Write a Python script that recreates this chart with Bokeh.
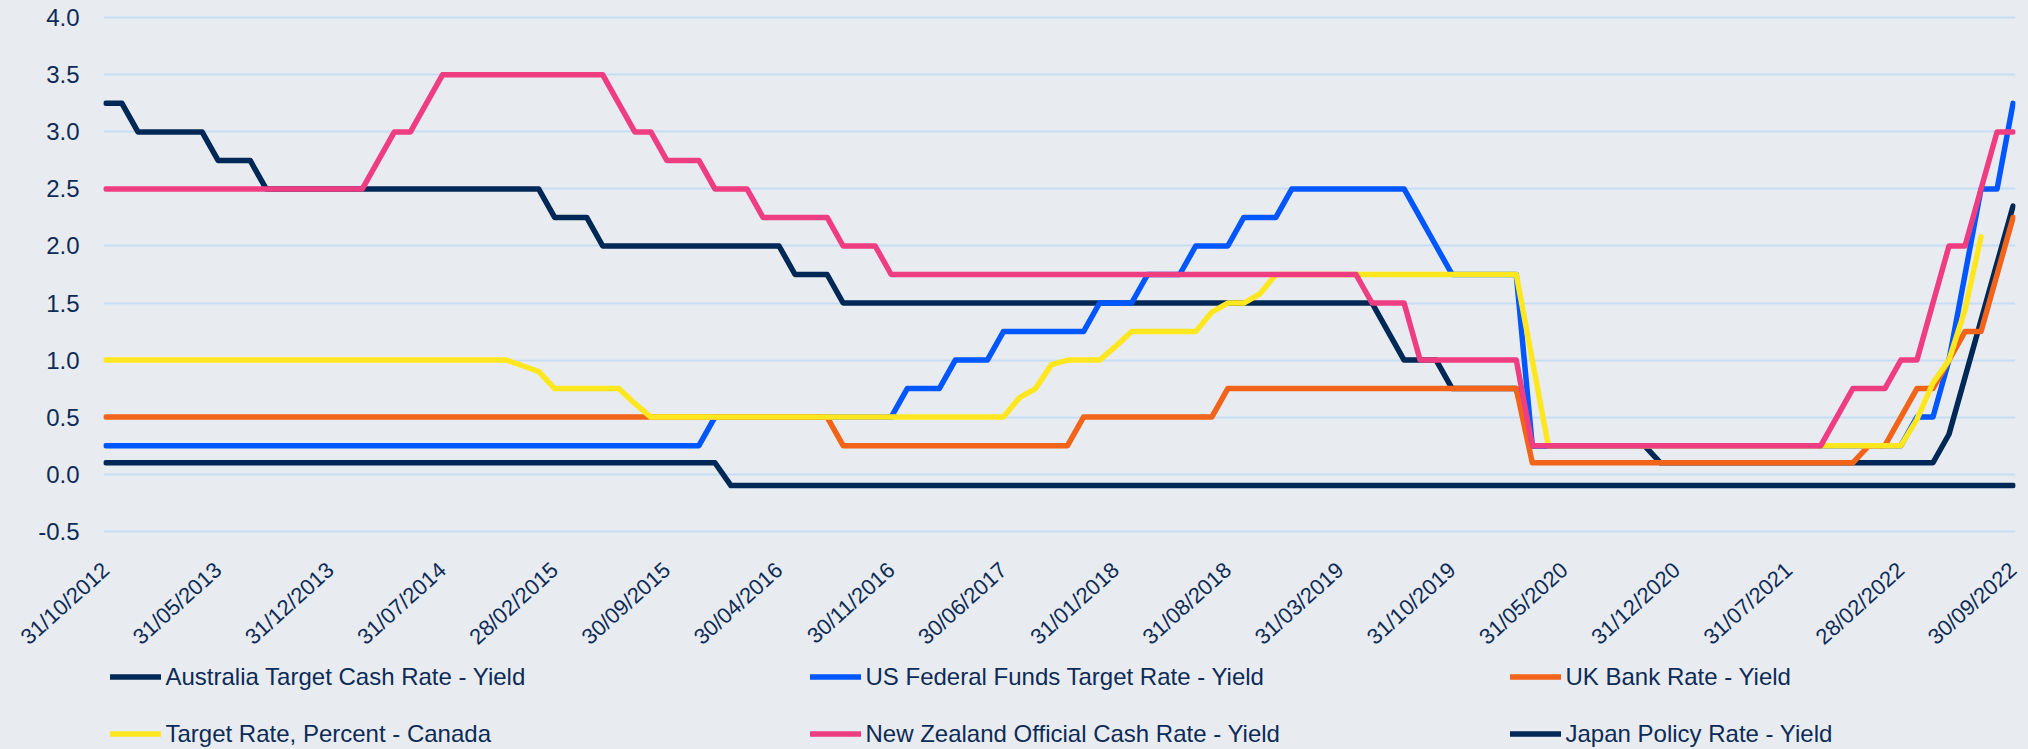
import math
import pandas as pd
from bokeh.plotting import figure
from bokeh.layouts import column
from bokeh.models import (Range1d, FixedTicker, PrintfTickFormatter, Legend, LegendItem)
from bokeh.embed import file_html
from bokeh.resources import INLINE

# ---------------- data ----------------
# monthly observations, 31/10/2012 ... 30/09/2022 (category axis)
months = [d.strftime("%d/%m/%Y") for d in
          (pd.date_range("2012-10-01", periods=120, freq="MS") + pd.offsets.MonthEnd(0))]

x_tick_labels = ["31/10/2012", "31/05/2013", "31/12/2013", "31/07/2014", "28/02/2015",
                 "30/09/2015", "30/04/2016", "30/11/2016", "30/06/2017", "31/01/2018",
                 "31/08/2018", "31/03/2019", "31/10/2019", "31/05/2020", "31/12/2020",
                 "31/07/2021", "28/02/2022", "30/09/2022"]

y_ticks = [-0.5, 0.0, 0.5, 1.0, 1.5, 2.0, 2.5, 3.0, 3.5, 4.0]

nan = float("nan")

# one row per year: Oct .. Sep
australia = [
    3.25, 3.25, 3.00, 3.00, 3.00, 3.00, 3.00, 2.75, 2.75, 2.75, 2.50, 2.50,
    2.50, 2.50, 2.50, 2.50, 2.50, 2.50, 2.50, 2.50, 2.50, 2.50, 2.50, 2.50,
    2.50, 2.50, 2.50, 2.50, 2.25, 2.25, 2.25, 2.00, 2.00, 2.00, 2.00, 2.00,
    2.00, 2.00, 2.00, 2.00, 2.00, 2.00, 2.00, 1.75, 1.75, 1.75, 1.50, 1.50,
    1.50, 1.50, 1.50, 1.50, 1.50, 1.50, 1.50, 1.50, 1.50, 1.50, 1.50, 1.50,
    1.50, 1.50, 1.50, 1.50, 1.50, 1.50, 1.50, 1.50, 1.50, 1.50, 1.50, 1.50,
    1.50, 1.50, 1.50, 1.50, 1.50, 1.50, 1.50, 1.50, 1.25, 1.00, 1.00, 1.00,
    0.75, 0.75, 0.75, 0.75, 0.75, 0.25, 0.25, 0.25, 0.25, 0.25, 0.25, 0.25,
    0.25, 0.10, 0.10, 0.10, 0.10, 0.10, 0.10, 0.10, 0.10, 0.10, 0.10, 0.10,
    0.10, 0.10, 0.10, 0.10, 0.10, 0.10, 0.10, 0.35, 0.85, 1.35, 1.85, 2.35,
]

us_fed = [
    0.25, 0.25, 0.25, 0.25, 0.25, 0.25, 0.25, 0.25, 0.25, 0.25, 0.25, 0.25,
    0.25, 0.25, 0.25, 0.25, 0.25, 0.25, 0.25, 0.25, 0.25, 0.25, 0.25, 0.25,
    0.25, 0.25, 0.25, 0.25, 0.25, 0.25, 0.25, 0.25, 0.25, 0.25, 0.25, 0.25,
    0.25, 0.25, 0.50, 0.50, 0.50, 0.50, 0.50, 0.50, 0.50, 0.50, 0.50, 0.50,
    0.50, 0.50, 0.75, 0.75, 0.75, 1.00, 1.00, 1.00, 1.25, 1.25, 1.25, 1.25,
    1.25, 1.25, 1.50, 1.50, 1.50, 1.75, 1.75, 1.75, 2.00, 2.00, 2.00, 2.25,
    2.25, 2.25, 2.50, 2.50, 2.50, 2.50, 2.50, 2.50, 2.50, 2.50, 2.25, 2.00,
    1.75, 1.75, 1.75, 1.75, 1.75, 0.25, 0.25, 0.25, 0.25, 0.25, 0.25, 0.25,
    0.25, 0.25, 0.25, 0.25, 0.25, 0.25, 0.25, 0.25, 0.25, 0.25, 0.25, 0.25,
    0.25, 0.25, 0.25, 0.25, 0.25, 0.50, 0.50, 1.00, 1.75, 2.50, 2.50, 3.25,
]

uk_bank = [
    0.50, 0.50, 0.50, 0.50, 0.50, 0.50, 0.50, 0.50, 0.50, 0.50, 0.50, 0.50,
    0.50, 0.50, 0.50, 0.50, 0.50, 0.50, 0.50, 0.50, 0.50, 0.50, 0.50, 0.50,
    0.50, 0.50, 0.50, 0.50, 0.50, 0.50, 0.50, 0.50, 0.50, 0.50, 0.50, 0.50,
    0.50, 0.50, 0.50, 0.50, 0.50, 0.50, 0.50, 0.50, 0.50, 0.50, 0.25, 0.25,
    0.25, 0.25, 0.25, 0.25, 0.25, 0.25, 0.25, 0.25, 0.25, 0.25, 0.25, 0.25,
    0.25, 0.50, 0.50, 0.50, 0.50, 0.50, 0.50, 0.50, 0.50, 0.50, 0.75, 0.75,
    0.75, 0.75, 0.75, 0.75, 0.75, 0.75, 0.75, 0.75, 0.75, 0.75, 0.75, 0.75,
    0.75, 0.75, 0.75, 0.75, 0.75, 0.10, 0.10, 0.10, 0.10, 0.10, 0.10, 0.10,
    0.10, 0.10, 0.10, 0.10, 0.10, 0.10, 0.10, 0.10, 0.10, 0.10, 0.10, 0.10,
    0.10, 0.10, 0.25, 0.25, 0.50, 0.75, 0.75, 1.00, 1.25, 1.25, 1.75, 2.25,
]

canada = [
    1.00, 1.00, 1.00, 1.00, 1.00, 1.00, 1.00, 1.00, 1.00, 1.00, 1.00, 1.00,
    1.00, 1.00, 1.00, 1.00, 1.00, 1.00, 1.00, 1.00, 1.00, 1.00, 1.00, 1.00,
    1.00, 1.00, 0.95, 0.90, 0.75, 0.75, 0.75, 0.75, 0.75, 0.62, 0.50, 0.50,
    0.50, 0.50, 0.50, 0.50, 0.50, 0.50, 0.50, 0.50, 0.50, 0.50, 0.50, 0.50,
    0.50, 0.50, 0.50, 0.50, 0.50, 0.50, 0.50, 0.50, 0.50, 0.67, 0.75, 0.96,
    1.00, 1.00, 1.00, 1.12, 1.25, 1.25, 1.25, 1.25, 1.25, 1.42, 1.50, 1.50,
    1.58, 1.75, 1.75, 1.75, 1.75, 1.75, 1.75, 1.75, 1.75, 1.75, 1.75, 1.75,
    1.75, 1.75, 1.75, 1.75, 1.75, 1.00, 0.25, 0.25, 0.25, 0.25, 0.25, 0.25,
    0.25, 0.25, 0.25, 0.25, 0.25, 0.25, 0.25, 0.25, 0.25, 0.25, 0.25, 0.25,
    0.25, 0.25, 0.25, 0.25, 0.25, 0.48, 0.80, 1.00, 1.44, 2.08, nan, nan,
]

new_zealand = [
    2.50, 2.50, 2.50, 2.50, 2.50, 2.50, 2.50, 2.50, 2.50, 2.50, 2.50, 2.50,
    2.50, 2.50, 2.50, 2.50, 2.50, 2.75, 3.00, 3.00, 3.25, 3.50, 3.50, 3.50,
    3.50, 3.50, 3.50, 3.50, 3.50, 3.50, 3.50, 3.50, 3.25, 3.00, 3.00, 2.75,
    2.75, 2.75, 2.50, 2.50, 2.50, 2.25, 2.25, 2.25, 2.25, 2.25, 2.00, 2.00,
    2.00, 1.75, 1.75, 1.75, 1.75, 1.75, 1.75, 1.75, 1.75, 1.75, 1.75, 1.75,
    1.75, 1.75, 1.75, 1.75, 1.75, 1.75, 1.75, 1.75, 1.75, 1.75, 1.75, 1.75,
    1.75, 1.75, 1.75, 1.75, 1.75, 1.75, 1.75, 1.50, 1.50, 1.50, 1.00, 1.00,
    1.00, 1.00, 1.00, 1.00, 1.00, 0.25, 0.25, 0.25, 0.25, 0.25, 0.25, 0.25,
    0.25, 0.25, 0.25, 0.25, 0.25, 0.25, 0.25, 0.25, 0.25, 0.25, 0.25, 0.25,
    0.50, 0.75, 0.75, 0.75, 1.00, 1.00, 1.50, 2.00, 2.00, 2.50, 3.00, 3.00,
]

japan = [
    0.10, 0.10, 0.10, 0.10, 0.10, 0.10, 0.10, 0.10, 0.10, 0.10, 0.10, 0.10,
    0.10, 0.10, 0.10, 0.10, 0.10, 0.10, 0.10, 0.10, 0.10, 0.10, 0.10, 0.10,
    0.10, 0.10, 0.10, 0.10, 0.10, 0.10, 0.10, 0.10, 0.10, 0.10, 0.10, 0.10,
    0.10, 0.10, 0.10, -0.10, -0.10, -0.10, -0.10, -0.10, -0.10, -0.10, -0.10, -0.10,
    -0.10, -0.10, -0.10, -0.10, -0.10, -0.10, -0.10, -0.10, -0.10, -0.10, -0.10, -0.10,
    -0.10, -0.10, -0.10, -0.10, -0.10, -0.10, -0.10, -0.10, -0.10, -0.10, -0.10, -0.10,
    -0.10, -0.10, -0.10, -0.10, -0.10, -0.10, -0.10, -0.10, -0.10, -0.10, -0.10, -0.10,
    -0.10, -0.10, -0.10, -0.10, -0.10, -0.10, -0.10, -0.10, -0.10, -0.10, -0.10, -0.10,
    -0.10, -0.10, -0.10, -0.10, -0.10, -0.10, -0.10, -0.10, -0.10, -0.10, -0.10, -0.10,
    -0.10, -0.10, -0.10, -0.10, -0.10, -0.10, -0.10, -0.10, -0.10, -0.10, -0.10, -0.10,
]

series_names = ["Australia Target Cash Rate - Yield",
                "US Federal Funds Target Rate - Yield",
                "UK Bank Rate - Yield",
                "Target Rate, Percent - Canada",
                "New Zealand Official Cash Rate - Yield",
                "Japan Policy Rate - Yield"]
series_values = [australia, us_fed, uk_bank, canada, new_zealand, japan]
series_colors = ["#002856", "#0057FF", "#F26419", "#FFE71F", "#EE3D80", "#002856"]

# ---------------- styling ----------------
BG = "#E8ECF0"
GRID = "#C5DCF5"
TXT = "#0D2B57"
FONT = "Liberation Sans"
W = 2028
H_MAIN = 664
H_LEG = 85
B_LEFT = 103
B_RIGHT = 13
LW = 5.5

x_idx = list(range(len(months)))

p = figure(width=W, height=H_MAIN, output_backend="svg", toolbar_location=None,
           x_range=Range1d(-0.15, len(months) - 1 + 0.15),
           y_range=Range1d(-0.52, 4.02),
           min_border_left=B_LEFT, min_border_right=B_RIGHT,
           min_border_top=15, min_border_bottom=131)

p.background_fill_color = BG
p.border_fill_color = BG
p.outline_line_color = None

for name, vals, col in zip(series_names, series_values, series_colors):
    p.line(x_idx, vals, line_color=col, line_width=LW,
           line_join="round", line_cap="round")

# x axis (category positions)
tick_idx = [months.index(lbl) for lbl in x_tick_labels]
p.xaxis.ticker = FixedTicker(ticks=tick_idx)
p.xaxis.major_label_overrides = {i: lbl for i, lbl in zip(tick_idx, x_tick_labels)}
p.xaxis.major_label_orientation = math.radians(42)
p.xaxis.major_label_text_font = FONT
p.xaxis.major_label_text_font_size = "22px"
p.xaxis.major_label_text_color = TXT
p.xaxis.major_label_standoff = 27
p.xaxis.axis_line_color = None
p.xaxis.major_tick_line_color = None
p.xaxis.minor_tick_line_color = None
p.xgrid.grid_line_color = None

# y axis
p.yaxis.ticker = FixedTicker(ticks=y_ticks)
p.yaxis.formatter = PrintfTickFormatter(format="%.1f")
p.yaxis.major_label_text_font = FONT
p.yaxis.major_label_text_font_size = "24px"
p.yaxis.major_label_text_color = TXT
p.yaxis.major_label_standoff = 18
p.yaxis.axis_line_color = None
p.yaxis.major_tick_line_color = None
p.yaxis.minor_tick_line_color = None
p.ygrid.ticker = FixedTicker(ticks=y_ticks)
p.ygrid.grid_line_color = GRID
p.ygrid.grid_line_width = 2

# ---------------- legend strip (3 columns x 2 rows) ----------------
# the series are drawn again here only to give the legend its swatches;
# the y range keeps them out of view
lf = figure(width=W, height=H_LEG, output_backend="svg", toolbar_location=None,
            x_range=Range1d(-0.15, len(months) - 1 + 0.15), y_range=Range1d(1000, 1001),
            x_axis_type=None, y_axis_type=None,
            min_border_left=B_LEFT, min_border_right=B_RIGHT,
            min_border_top=0, min_border_bottom=0)
lf.background_fill_color = BG
lf.border_fill_color = BG
lf.outline_line_color = None
lf.xgrid.grid_line_color = None
lf.ygrid.grid_line_color = None

leg_renderers = [lf.line(x_idx, vals, line_color=c, line_width=LW, line_cap="round")
                 for vals, c in zip(series_values, series_colors)]

col_x = [6.5, 706.5, 1406.5]
for c, (a, b) in enumerate([(0, 3), (1, 4), (2, 5)]):
    items = [LegendItem(label=series_names[a], renderers=[leg_renderers[a]]),
             LegendItem(label=series_names[b], renderers=[leg_renderers[b]])]
    lg = Legend(items=items, location=(col_x[c], 1.5), orientation="vertical",
                glyph_width=51, glyph_height=27, label_height=27,
                label_standoff=5, spacing=29, padding=0, margin=0,
                border_line_color=None, background_fill_alpha=0,
                label_text_font=FONT, label_text_font_size="24px",
                label_text_color=TXT)
    lf.add_layout(lg)

layout = column(p, lf, spacing=0)

html = file_html(layout, INLINE, title="Policy rates")
html = html.replace("</head>", "<style>html,body{background:%s;}</style></head>" % BG, 1)
open("out.html", "w").write(html)
